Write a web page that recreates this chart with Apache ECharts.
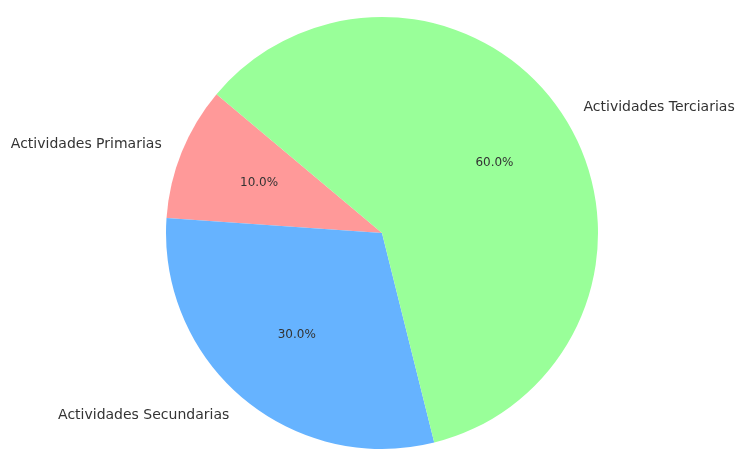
<!DOCTYPE html>
<html>
<head>
<meta charset="utf-8">
<script src="https://cdn.jsdelivr.net/npm/echarts@6/dist/echarts.min.js"></script>
<style>
  html, body { margin: 0; padding: 0; background: #fff; }
  #chart { width: 736px; height: 450px; }
</style>
</head>
<body>
<div id="chart"></div>
<script>
// datos del gráfico
var sectores = ['Actividades Primarias', 'Actividades Secundarias', 'Actividades Terciarias'];
var valores = [10, 30, 60];
var colores = ['#ff9999', '#66b3ff', '#99ff99'];

var R = 216;
var centro = [382, 233];

var datos = sectores.map(function (s, i) {
    return { name: s, value: valores[i], itemStyle: { color: colores[i] } };
});

var chart = echarts.init(document.getElementById('chart'), null, { renderer: 'canvas' });
chart.setOption({
    animation: false,
    backgroundColor: '#ffffff',
    series: [
        {
            // sectores con etiquetas de nombre por fuera
            type: 'pie',
            center: centro,
            radius: [0, R],
            startAngle: 140,
            clockwise: false,
            avoidLabelOverlap: false,
            silent: true,
            data: datos,
            label: {
                show: true,
                position: 'outside',
                formatter: '{b}',
                fontFamily: 'DejaVu Sans',
                fontSize: 14,
                color: '#333333',
                distanceToLabelLine: 0
            },
            labelLine: { show: false, length: R * 0.1, length2: 0 }
        },
        {
            // porcentajes a 0.6 del radio
            type: 'pie',
            center: centro,
            radius: [R * 0.2, R],
            startAngle: 140,
            clockwise: false,
            avoidLabelOverlap: false,
            silent: true,
            data: datos.map(function (d) {
                return { name: d.name, value: d.value, itemStyle: { color: 'rgba(0,0,0,0)' } };
            }),
            label: {
                show: true,
                position: 'inside',
                formatter: function (p) { return p.percent.toFixed(1) + '%'; },
                fontFamily: 'DejaVu Sans',
                fontSize: 12,
                color: '#333333'
            },
            labelLine: { show: false }
        }
    ]
});
</script>
</body>
</html>
